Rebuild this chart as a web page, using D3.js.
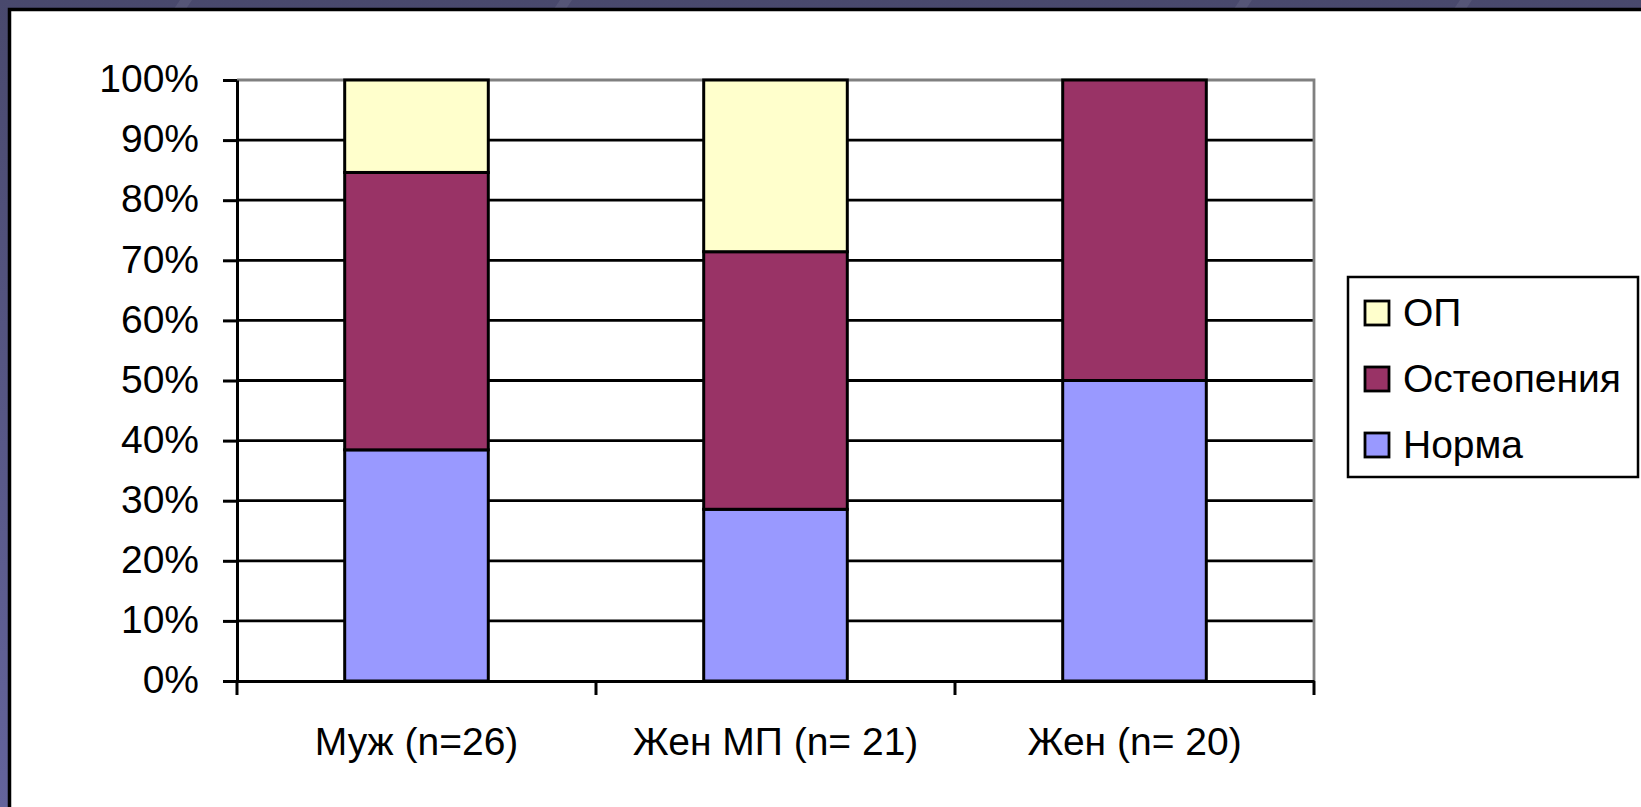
<!DOCTYPE html>
<html>
<head>
<meta charset="utf-8">
<script src="https://cdn.jsdelivr.net/npm/d3@7"></script>
<style>
  html, body { margin: 0; padding: 0; background: #4a4a70; }
  svg { display: block; }
  text { font-family: "Liberation Sans", Arial, sans-serif; fill: #000; }
</style>
</head>
<body>
<svg id="chart" width="1641" height="807"></svg>
<script>
// Groups (x axis) and patient counts per bone-density category
const categories = ["Муж (n=26)", "Жен МП (n= 21)", "Жен (n= 20)"];
const normaCounts = [10, 6, 10];
const osteopeniaCounts = [12, 9, 10];
const opCounts = [4, 6, 0];

// Series, bottom to top in each stack
const seriesNames = ["Норма", "Остеопения", "ОП"];
const seriesColors = ["#9999FF", "#993366", "#FFFFCC"];

// Legend order (top to bottom)
const legendOrder = ["ОП", "Остеопения", "Норма"];

const yTicks = [0, 0.1, 0.2, 0.3, 0.4, 0.5, 0.6, 0.7, 0.8, 0.9, 1];

const rows = categories.map((c, i) => ({
  group: c,
  "Норма": normaCounts[i],
  "Остеопения": osteopeniaCounts[i],
  "ОП": opCounts[i]
}));

const svg = d3.select("#chart");
const W = 1641, H = 807;

// Slide background with a soft vertical gradient
const defs = svg.append("defs");
const bg = defs.append("linearGradient").attr("id", "bgGrad")
  .attr("x1", 0).attr("y1", 0).attr("x2", 0).attr("y2", 1);
bg.append("stop").attr("offset", "0%").attr("stop-color", "#49496d");
bg.append("stop").attr("offset", "100%").attr("stop-color", "#64649c");
svg.append("rect").attr("width", W).attr("height", H).attr("fill", "url(#bgGrad)");

// Faint diagonal streaks on the slide background
const streaks = [[180, 0], [560, 0], [1240, 0], [1460, 0]];
svg.append("g").selectAll("path").data(streaks).join("path")
  .attr("d", d => `M${d[0]},0 l12,0 l-40,60 l-12,0 Z`)
  .attr("fill", "#ffffff").attr("opacity", 0.07);

// White chart panel with a black frame
svg.append("rect")
  .attr("x", 9.5).attr("y", 9.5)
  .attr("width", W + 20).attr("height", H + 20)
  .attr("fill", "#ffffff").attr("stroke", "#000").attr("stroke-width", 3.5);

const plot = { left: 237, right: 1314, top: 80, bottom: 681 };

const x = d3.scaleBand().domain(categories)
  .range([plot.left, plot.right]).paddingInner(0).paddingOuter(0);
const y = d3.scaleLinear().domain([0, 1]).range([plot.bottom, plot.top]);

// Horizontal gridlines
svg.append("g").selectAll("line").data(yTicks.filter(t => t > 0 && t < 1)).join("line")
  .attr("x1", plot.left).attr("x2", plot.right)
  .attr("y1", d => y(d)).attr("y2", d => y(d))
  .attr("stroke", "#000").attr("stroke-width", 2.8);

// Plot area frame (top and right in gray)
svg.append("path")
  .attr("d", `M${plot.left},${y(1)} H${plot.right} V${plot.bottom}`)
  .attr("fill", "none").attr("stroke", "#808080").attr("stroke-width", 2.8);

// Stacked 100% bars
const stack = d3.stack().keys(seriesNames).offset(d3.stackOffsetExpand);
const stacked = stack(rows);
const barW = x.bandwidth() / 2.5;

svg.append("g").selectAll("g").data(stacked).join("g")
  .attr("fill", (d, i) => seriesColors[i])
  .selectAll("rect").data(d => d).join("rect")
  .attr("x", d => x(d.data.group) + (x.bandwidth() - barW) / 2)
  .attr("width", barW)
  .attr("y", d => y(d[1]))
  .attr("height", d => y(d[0]) - y(d[1]))
  .attr("stroke", "#000").attr("stroke-width", 3)
  .attr("display", d => (d[1] - d[0]) > 0 ? null : "none");

// Y axis
const yAxis = svg.append("g")
  .attr("transform", `translate(${plot.left},0)`)
  .call(d3.axisLeft(y).tickValues(yTicks).tickFormat(d3.format(".0%"))
    .tickSize(14).tickSizeOuter(0).tickPadding(24));
yAxis.select(".domain").attr("stroke", "#000").attr("stroke-width", 3);
yAxis.selectAll(".tick line").attr("stroke", "#000").attr("stroke-width", 3);
yAxis.selectAll(".tick text")
  .attr("font-size", 39).attr("font-family", "Liberation Sans, Arial, sans-serif")
  .attr("dy", "0.3em");

// X axis: baseline, boundary ticks and centered category labels
const xAxis = svg.append("g")
  .attr("transform", `translate(0,${plot.bottom})`)
  .call(d3.axisBottom(x).tickSize(0).tickSizeOuter(0).tickPadding(50));
xAxis.select(".domain").attr("stroke", "#000").attr("stroke-width", 3);
xAxis.selectAll(".tick text")
  .attr("font-size", 39).attr("font-family", "Liberation Sans, Arial, sans-serif")
  .attr("dy", "0.71em").attr("y", 46);

const bounds = categories.map(c => x(c)).concat([x(categories[categories.length - 1]) + x.bandwidth()]);
svg.append("g").selectAll("line").data(bounds).join("line")
  .attr("x1", d => d).attr("x2", d => d)
  .attr("y1", plot.bottom).attr("y2", plot.bottom + 14)
  .attr("stroke", "#000").attr("stroke-width", 3);

// Legend
const legend = svg.append("g");
legend.append("rect")
  .attr("x", 1348).attr("y", 277).attr("width", 290).attr("height", 200)
  .attr("fill", "#fff").attr("stroke", "#000").attr("stroke-width", 2.5);
const colorOf = d3.scaleOrdinal().domain(seriesNames).range(seriesColors);
const items = legend.selectAll("g.item").data(legendOrder).join("g")
  .attr("class", "item")
  .attr("transform", (d, i) => `translate(1365,${313 + i * 66})`);
items.append("rect")
  .attr("x", 0).attr("y", -12).attr("width", 24).attr("height", 24)
  .attr("fill", d => colorOf(d)).attr("stroke", "#000").attr("stroke-width", 2.8);
items.append("text")
  .attr("x", 38).attr("y", 13)
  .attr("font-size", 39)
  .text(d => d);
</script>
</body>
</html>
